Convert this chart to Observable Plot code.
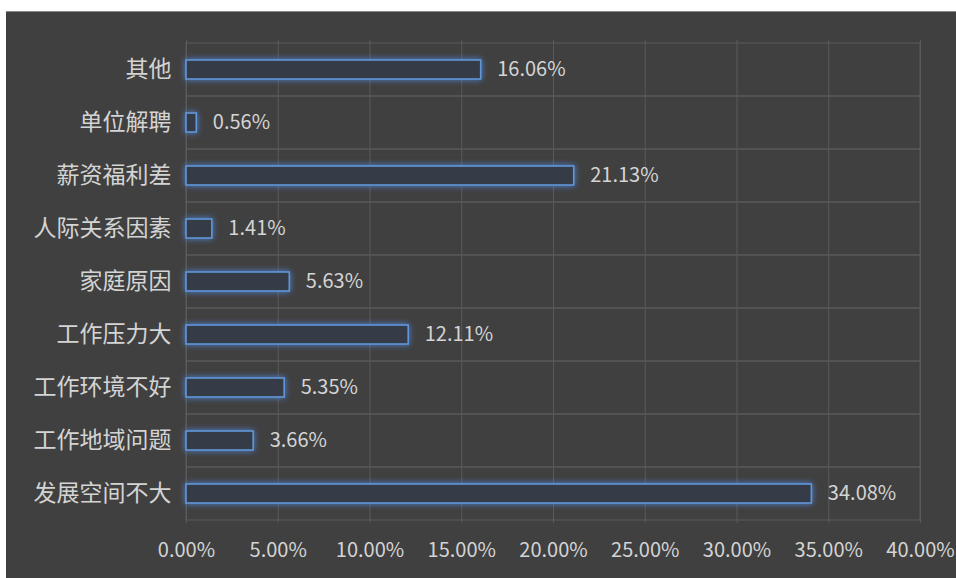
<!DOCTYPE html>
<html>
<head>
<meta charset="utf-8">
<script src="https://cdn.jsdelivr.net/npm/d3@7"></script>
<script src="https://cdn.jsdelivr.net/npm/@observablehq/plot@0.6"></script>
<style>
  html, body { margin: 0; padding: 0; background: #ffffff; }
  #chart {
    position: absolute; left: 6px; top: 11px; width: 950px; height: 567px;
    background: #404040; border-top: 1px solid #8a8a8a; box-sizing: border-box;
  }
  #chart svg { display: block; }
</style>
</head>
<body>
<div id="chart"></div>
<script>
const categories = ["其他", "单位解聘", "薪资福利差", "人际关系因素", "家庭原因", "工作压力大", "工作环境不好", "工作地域问题", "发展空间不大"];
const values = [16.06, 0.56, 21.13, 1.41, 5.63, 12.11, 5.35, 3.66, 34.08];
const tickValues = [0, 5, 10, 15, 20, 25, 30, 35, 40];

const data = categories.map((c, i) => ({ category: c, value: values[i] }));
const fmt = d => d.toFixed(2) + "%";
const font = "'Noto Sans CJK SC', 'Noto Sans', sans-serif";

const chart = Plot.plot({
  width: 950,
  height: 566,
  marginLeft: 180,
  marginTop: 28,
  marginRight: 36,
  marginBottom: 55,
  x: { domain: [0, 40], label: null },
  y: { domain: categories, label: null, padding: 0 },
  style: { background: "transparent", color: "#d4d4d4", fontFamily: font },
  marks: [
    Plot.barX(categories, { x1: 0, x2: 40, y: d => d, fill: "none", stroke: "#5a5a5a", strokeWidth: 1 }),
    Plot.gridX(tickValues, { stroke: "#5a5a5a", strokeOpacity: 1 }),
    Plot.barX(data, { x: "value", y: "category", fill: "#363c47", stroke: "#6196d8", strokeWidth: 1.6, insetTop: 17, insetBottom: 17 }),
    Plot.text(data, { x: "value", y: "category", text: d => fmt(d.value), textAnchor: "start", dx: 16, fill: "#d4d4d4", fontSize: 20, fontFamily: font }),
    Plot.axisX(tickValues, { tickFormat: fmt, tickSize: 0, tickPadding: 19, fontSize: 20, label: null, fill: "#d4d4d4" }),
    Plot.axisY({ tickSize: 0, tickPadding: 15, fontSize: 23, label: null, fill: "#d4d4d4" })
  ]
});

document.getElementById("chart").appendChild(chart);

// soft blue glow around the data bars
const barGroups = chart.querySelectorAll('g[aria-label="bar"]');
if (barGroups.length > 1) {
  barGroups[1].style.filter = "drop-shadow(0 0 3px rgba(80,140,230,0.9))";
}
</script>
</body>
</html>
